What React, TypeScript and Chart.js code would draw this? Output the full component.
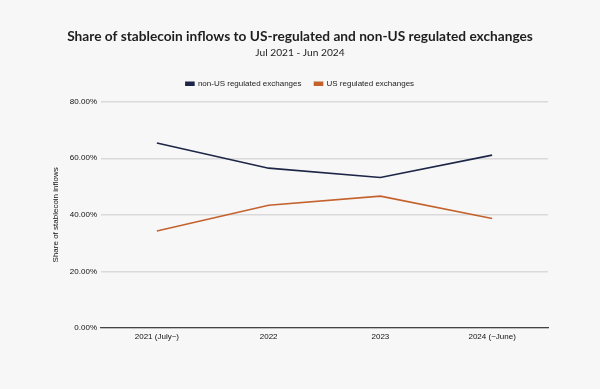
import React, { useEffect, useRef } from "react";
import { Chart, registerables } from "chart.js";

Chart.register(...registerables);

const categories = ["2021 (July~)", "2022", "2023", "2024 (~June)"];
const nonUsShare = [65.4, 56.5, 53.2, 61.1];
const usShare = [34.3, 43.4, 46.6, 38.7];
const yTicks = [0, 20, 40, 60, 80];

export default function App() {
  const ref = useRef<HTMLCanvasElement | null>(null);

  useEffect(() => {
    document.body.style.margin = "0";
    document.body.style.background = "#f7f7f7";
    const ctx = ref.current!;
    const chart = new Chart(ctx, {
      type: "line",
      data: {
        labels: categories,
        datasets: [
          {
            label: "non-US regulated exchanges",
            data: nonUsShare,
            borderColor: "#1d2646",
            backgroundColor: "#1d2646",
            borderWidth: 1.6,
            pointRadius: 0,
            tension: 0,
          },
          {
            label: "US regulated exchanges",
            data: usShare,
            borderColor: "#c4622d",
            backgroundColor: "#c4622d",
            borderWidth: 1.6,
            pointRadius: 0,
            tension: 0,
          },
        ],
      },
      options: {
        animation: false,
        responsive: false,
        maintainAspectRatio: false,
        layout: { padding: { left: 52, right: 52, top: 0, bottom: 0 } },
        plugins: {
          title: {
            display: true,
            text: "Share of stablecoin inflows to US-regulated and non-US regulated exchanges",
            color: "#1e1e1e",
            font: { family: "Lato", size: 13.7, weight: "bold" },
            padding: { top: 28, bottom: 0 },
          },
          subtitle: {
            display: true,
            text: "Jul 2021 - Jun 2024",
            color: "#1e1e1e",
            font: { family: "Lato", size: 10.2, weight: "normal" },
            padding: { top: 2, bottom: 8 },
          },
          legend: {
            display: true,
            labels: {
              boxWidth: 8,
              boxHeight: 3,
              color: "#222",
              font: { family: "Liberation Sans", size: 8 },
              padding: 13,
            },
          },
          tooltip: { enabled: false },
        },
        scales: {
          x: {
            offset: true,
            grid: { display: false, drawTicks: false },
            border: { display: true, color: "#444", width: 1.2 },
            ticks: {
              color: "#111",
              font: { family: "Liberation Sans", size: 8 },
              padding: 4,
              maxRotation: 0,
            },
            afterFit: (scale: any) => {
              scale.height = 61;
            },
          },
          xTop: {
            type: "category",
            position: "top",
            display: true,
            grid: { display: false, drawTicks: false },
            border: { display: false },
            ticks: { display: false },
            afterFit: (scale: any) => {
              scale.height = 4;
            },
          },
          y: {
            min: 0,
            max: 80,
            afterBuildTicks: (scale: any) => {
              scale.ticks = yTicks.map((v) => ({ value: v }));
            },
            grid: { color: "#dadada", lineWidth: 1.5, drawTicks: false },
            border: { display: false },
            ticks: {
              color: "#111",
              font: { family: "Liberation Sans", size: 8 },
              padding: 4,
              callback: (v: any) => Number(v).toFixed(2) + "%",
            },
            title: {
              display: true,
              text: "Share of stablecoin inflows",
              color: "#111",
              font: { family: "Liberation Sans", size: 8 },
              padding: { top: -1, bottom: 0 },
            },
            afterFit: (scale: any) => {
              scale.width = 49;
            },
          },
        },
      },
    });
    return () => chart.destroy();
  }, []);

  return (
    <div style={{ width: 600, height: 389, background: "#f7f7f7" }}>
      <canvas ref={ref} width={600} height={389} style={{ display: "block" }} />
    </div>
  );
}
